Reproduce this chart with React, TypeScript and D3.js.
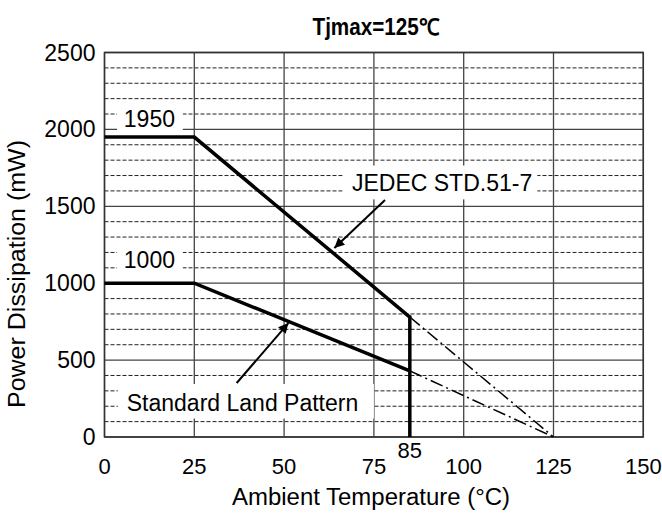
import React from "react";
import * as d3 from "d3";

// derating curves (Ta in °C, Pd in mW)
const curveTemps = [0, 25, 85];
const jedecPd = [1950, 1950, 780];
const standardPd = [1000, 1000, 430];
// dash-dot extension down to Tjmax
const extTemps = [85, 125];
const jedecExt = [780, 0];
const standardExt = [430, 0];

const xTicks = [0, 25, 50, 75, 100, 125, 150];
const yTicks = [0, 500, 1000, 1500, 2000, 2500];

const W = 662;
const H = 515;
const margin = { top: 52.5, right: 18.7, bottom: 78, left: 104.5 };
const FONT = "'Liberation Sans', Arial, Helvetica, sans-serif";

const App = () => {
  const x = d3.scaleLinear().domain([0, 150]).range([margin.left, W - margin.right]);
  const y = d3.scaleLinear().domain([0, 2500]).range([H - margin.bottom, margin.top]);
  const minor = y.ticks(25).filter((v) => v % 500 !== 0);

  const line = d3
    .line<[number, number]>()
    .x((d) => x(d[0]))
    .y((d) => y(d[1]));
  const pts = (t: number[], p: number[]) => t.map((v, i) => [v, p[i]] as [number, number]);

  const x0 = x(0);
  const x1 = x(150);
  const y0 = y(0);
  const y1 = y(2500);

  // white label boxes laid over the grid (data coords: [t0, t1, p0, p1])
  const boxes = [
    [3.5, 21.8, 1980, 2155],
    [3.5, 21.8, 1040, 1245],
    [3.7, 75.0, 120, 345],
    [66.3, 120.5, 1545, 1765],
  ];

  return (
    <svg
      width={W}
      height={H}
      style={{ position: "absolute", left: 0, top: 0, background: "#fff" }}
      fontFamily={FONT}
    >
      <defs>
        <marker id="arrow" viewBox="0 0 10 10" refX="10" refY="5" markerWidth="6" markerHeight="5" orient="auto">
          <path d="M0,0 L10,5 L0,10 z" fill="#000" />
        </marker>
      </defs>

      {/* minor dashed grid */}
      {minor.map((v) => (
        <line key={"m" + v} x1={x0} x2={x1} y1={y(v)} y2={y(v)} stroke="#222" strokeWidth={1} strokeDasharray="4,2" />
      ))}
      {/* major grid */}
      {yTicks.map((v) => (
        <line key={"h" + v} x1={x0} x2={x1} y1={y(v)} y2={y(v)} stroke="#444" strokeWidth={1.3} />
      ))}
      {xTicks.map((v) => (
        <line key={"v" + v} x1={x(v)} x2={x(v)} y1={y0} y2={y1} stroke="#444" strokeWidth={1.3} />
      ))}

      {/* label backgrounds */}
      {boxes.map((b, i) => (
        <rect key={"b" + i} x={x(b[0])} y={y(b[3])} width={x(b[1]) - x(b[0])} height={y(b[2]) - y(b[3])} fill="#fff" />
      ))}

      {/* border */}
      <rect x={x0} y={y1} width={x1 - x0} height={y0 - y1} fill="none" stroke="#333" strokeWidth={1.5} />

      {/* extrapolation */}
      <path d={line(pts(extTemps, jedecExt)) || ""} fill="none" stroke="#000" strokeWidth={1.5} strokeDasharray="13,4,2,4" />
      <path d={line(pts(extTemps, standardExt)) || ""} fill="none" stroke="#000" strokeWidth={1.5} strokeDasharray="13,4,2,4" />

      {/* derating curves */}
      <path d={line(pts(curveTemps, jedecPd)) || ""} fill="none" stroke="#000" strokeWidth={3.5} />
      <path d={line(pts(curveTemps, standardPd)) || ""} fill="none" stroke="#000" strokeWidth={3.5} />
      <line x1={x(85)} x2={x(85)} y1={y(jedecPd[2]) - 1.5} y2={y0} stroke="#000" strokeWidth={3.5} />

      {/* arrows */}
      <line x1={x(78.1)} y1={y(1541)} x2={x(64.0)} y2={y(1229)} stroke="#000" strokeWidth={2} markerEnd="url(#arrow)" />
      <line x1={x(36.8)} y1={y(351)} x2={x(51.2)} y2={y(741)} stroke="#000" strokeWidth={2} markerEnd="url(#arrow)" />

      {/* annotations */}
      <g fontSize={23} fill="#000">
        <text x={x(12.5)} y={y(2000) - 2} textAnchor="middle">1950</text>
        <text x={x(12.5)} y={y(1100)} textAnchor="middle">1000</text>
        <text x={x(6.2)} y={y(170)} textAnchor="start">Standard Land Pattern</text>
        <text x={x(68.9)} y={y(1600)} textAnchor="start">JEDEC STD.51-7</text>
      </g>

      {/* y tick labels */}
      {yTicks.map((v) => (
        <text key={"yt" + v} x={x0 - 9} y={y(v) + 8} textAnchor="end" fontSize={23}>
          {v}
        </text>
      ))}
      {/* x tick labels */}
      {xTicks.map((v) => (
        <text key={"xt" + v} x={x(v)} y={y0 + 37} textAnchor="middle" fontSize={22}>
          {v}
        </text>
      ))}
      <text x={x(85)} y={y0 + 21} textAnchor="middle" fontSize={22}>85</text>

      {/* titles */}
      <text x={376} y={35} textAnchor="middle" fontSize={23} fontWeight="bold" textLength={127} lengthAdjust="spacingAndGlyphs">
        Tjmax=125℃
      </text>
      <text x={371} y={505} textAnchor="middle" fontSize={23} textLength={278} lengthAdjust="spacingAndGlyphs">
        Ambient Temperature (°C)
      </text>
      <text
        transform={`translate(25,274) rotate(-90)`}
        textAnchor="middle"
        fontSize={23}
        textLength={268}
        lengthAdjust="spacingAndGlyphs"
      >
        Power Dissipation (mW)
      </text>
    </svg>
  );
};

export default App;
